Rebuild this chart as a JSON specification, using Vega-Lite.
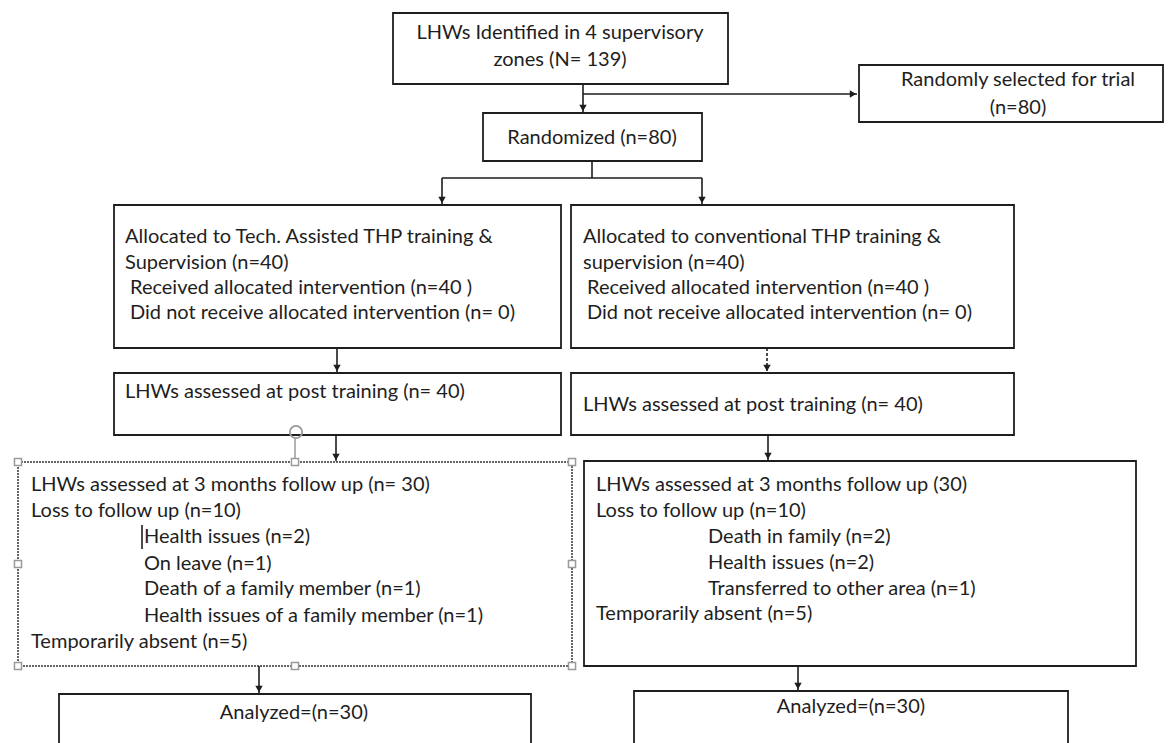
{
  "$schema": "https://vega.github.io/schema/vega-lite/v6.json",
  "width": 1168,
  "height": 743,
  "autosize": {"type": "fit", "contains": "padding"},
  "padding": 0,
  "background": "white",
  "config": {"view": {"stroke": null}},
  "datasets": {
    "boxes": [
      {"id": "identified", "x": 393, "x2": 728, "y": 13, "y2": 84},
      {"id": "randomized", "x": 483, "x2": 702, "y": 113, "y2": 161},
      {"id": "selected", "x": 859, "x2": 1163, "y": 65, "y2": 122},
      {"id": "allocL", "x": 114, "x2": 561, "y": 205, "y2": 348},
      {"id": "allocR", "x": 571, "x2": 1014, "y": 205, "y2": 348},
      {"id": "postL", "x": 114, "x2": 561, "y": 373, "y2": 435},
      {"id": "postR", "x": 571, "x2": 1014, "y": 373, "y2": 435},
      {"id": "followR", "x": 584, "x2": 1136, "y": 461, "y2": 666},
      {"id": "anaL", "x": 59, "x2": 531, "y": 694, "y2": 752},
      {"id": "anaR", "x": 634, "x2": 1068, "y": 691, "y2": 752}
    ],
    "dashedBoxes": [
      {"id": "followL", "x": 18, "x2": 572, "y": 462, "y2": 666}
    ],
    "links": [
      {"x": 583, "x2": 583, "y": 84, "y2": 112, "style": "solid"},
      {"x": 583, "x2": 857, "y": 94, "y2": 94, "style": "solid"},
      {"x": 592, "x2": 592, "y": 161, "y2": 178, "style": "solid"},
      {"x": 442, "x2": 702, "y": 178, "y2": 178, "style": "solid"},
      {"x": 442, "x2": 442, "y": 178, "y2": 204, "style": "solid"},
      {"x": 702, "x2": 702, "y": 178, "y2": 204, "style": "solid"},
      {"x": 337, "x2": 337, "y": 348, "y2": 372, "style": "solid"},
      {"x": 767, "x2": 767, "y": 348, "y2": 372, "style": "dashed"},
      {"x": 336, "x2": 336, "y": 435, "y2": 461, "style": "solid"},
      {"x": 768, "x2": 768, "y": 435, "y2": 460, "style": "solid"},
      {"x": 259, "x2": 259, "y": 666, "y2": 693, "style": "solid"},
      {"x": 798, "x2": 798, "y": 666, "y2": 690, "style": "solid"},
      {"x": 142, "x2": 142, "y": 525, "y2": 549, "style": "solid"}
    ],
    "heads": [
      {"x": 583, "y": 108, "dir": "down"},
      {"x": 853, "y": 94, "dir": "right"},
      {"x": 442, "y": 200, "dir": "down"},
      {"x": 702, "y": 200, "dir": "down"},
      {"x": 337, "y": 368, "dir": "down"},
      {"x": 767, "y": 368, "dir": "down"},
      {"x": 336, "y": 457, "dir": "down"},
      {"x": 768, "y": 456, "dir": "down"},
      {"x": 259, "y": 689, "dir": "down"},
      {"x": 798, "y": 686, "dir": "down"}
    ],
    "handleLine": [
      {"x": 295, "x2": 295, "y": 438, "y2": 459}
    ],
    "handles": [
      {"x": 18, "y": 462}, {"x": 295, "y": 462}, {"x": 572, "y": 462},
      {"x": 18, "y": 564}, {"x": 572, "y": 564},
      {"x": 18, "y": 666}, {"x": 295, "y": 666}, {"x": 572, "y": 666}
    ],
    "rotation": [
      {"x": 296, "y": 432}
    ],
    "centerText": [
      {"x": 560, "y": 33, "label": "LHWs Identified in 4 supervisory"},
      {"x": 560, "y": 60, "label": "zones (N= 139)"},
      {"x": 1018, "y": 80, "label": "Randomly selected for trial"},
      {"x": 1018, "y": 108, "label": "(n=80)"},
      {"x": 592, "y": 138, "label": "Randomized (n=80)"},
      {"x": 294, "y": 713, "label": "Analyzed=(n=30)"},
      {"x": 851, "y": 707, "label": "Analyzed=(n=30)"}
    ],
    "leftText": [
      {"x": 125, "y": 237, "label": "Allocated to Tech. Assisted THP training &"},
      {"x": 125, "y": 263, "label": "Supervision (n=40)"},
      {"x": 130, "y": 288, "label": "Received allocated intervention (n=40  )"},
      {"x": 130, "y": 313, "label": "Did not receive allocated intervention (n= 0)"},
      {"x": 583, "y": 237, "label": "Allocated to conventional THP training &"},
      {"x": 583, "y": 263, "label": "supervision (n=40)"},
      {"x": 587, "y": 288, "label": "Received allocated intervention (n=40  )"},
      {"x": 587, "y": 313, "label": "Did not receive allocated intervention (n= 0)"},
      {"x": 125, "y": 392, "label": "LHWs assessed at post training (n= 40)"},
      {"x": 583, "y": 405, "label": "LHWs assessed at post training (n= 40)"},
      {"x": 31, "y": 485, "label": "LHWs assessed at 3 months follow up (n= 30)"},
      {"x": 31, "y": 511, "label": "Loss to follow up (n=10)"},
      {"x": 144, "y": 537, "label": "Health issues (n=2)"},
      {"x": 144, "y": 564, "label": "On leave (n=1)"},
      {"x": 144, "y": 589, "label": "Death of a family member (n=1)"},
      {"x": 144, "y": 616, "label": "Health issues of a family member (n=1)"},
      {"x": 31, "y": 642, "label": "Temporarily absent (n=5)"},
      {"x": 596, "y": 485, "label": "LHWs assessed at 3 months follow up (30)"},
      {"x": 596, "y": 511, "label": "Loss to follow up (n=10)"},
      {"x": 708, "y": 537, "label": "Death in family (n=2)"},
      {"x": 708, "y": 563, "label": "Health issues (n=2)"},
      {"x": 708, "y": 589, "label": "Transferred to other area (n=1)"},
      {"x": 596, "y": 614, "label": "Temporarily absent (n=5)"}
    ]
  },
  "encoding": {
    "x": {"field": "x", "type": "quantitative", "scale": {"domain": [0, 1168], "nice": false, "zero": false}, "axis": null},
    "y": {"field": "y", "type": "quantitative", "scale": {"domain": [0, 743], "nice": false, "zero": false, "reverse": true}, "axis": null}
  },
  "layer": [
    {
      "data": {"name": "boxes"},
      "mark": {"type": "rect", "fill": "white", "stroke": "#1e1e1e", "strokeWidth": 1.8, "clip": true},
      "encoding": {"x2": {"field": "x2"}, "y2": {"field": "y2"}}
    },
    {
      "data": {"name": "dashedBoxes"},
      "mark": {"type": "rect", "fill": "white", "stroke": "#333333", "strokeWidth": 1.5, "strokeDash": [2, 1]},
      "encoding": {"x2": {"field": "x2"}, "y2": {"field": "y2"}}
    },
    {
      "data": {"name": "links"},
      "mark": {"type": "rule", "color": "#1e1e1e", "strokeWidth": 1.6},
      "encoding": {
        "x2": {"field": "x2"},
        "y2": {"field": "y2"},
        "strokeDash": {"field": "style", "type": "nominal", "scale": {"domain": ["solid", "dashed"], "range": [[1, 0], [3, 2]]}, "legend": null}
      }
    },
    {
      "data": {"name": "heads"},
      "mark": {"type": "point", "filled": true, "color": "#1e1e1e", "opacity": 1, "size": 55},
      "encoding": {
        "shape": {"field": "dir", "type": "nominal", "scale": {"domain": ["down", "right"], "range": ["triangle-down", "triangle-right"]}, "legend": null}
      }
    },
    {
      "data": {"name": "handleLine"},
      "mark": {"type": "rule", "color": "#9a9a9a", "strokeWidth": 1.5},
      "encoding": {"x2": {"field": "x2"}, "y2": {"field": "y2"}}
    },
    {
      "data": {"name": "rotation"},
      "mark": {"type": "point", "shape": "circle", "filled": false, "stroke": "#9a9a9a", "strokeWidth": 1.8, "size": 150, "opacity": 1}
    },
    {
      "data": {"name": "handles"},
      "mark": {"type": "point", "shape": "square", "filled": true, "fill": "white", "stroke": "#9a9a9a", "strokeWidth": 1.5, "size": 50, "opacity": 1}
    },
    {
      "data": {"name": "centerText"},
      "mark": {"type": "text", "align": "center", "baseline": "middle", "font": "Lato", "fontSize": 20, "color": "#1e1e1e"},
      "encoding": {"text": {"field": "label"}}
    },
    {
      "data": {"name": "leftText"},
      "mark": {"type": "text", "align": "left", "baseline": "middle", "font": "Lato", "fontSize": 20, "color": "#1e1e1e"},
      "encoding": {"text": {"field": "label"}}
    }
  ]
}
